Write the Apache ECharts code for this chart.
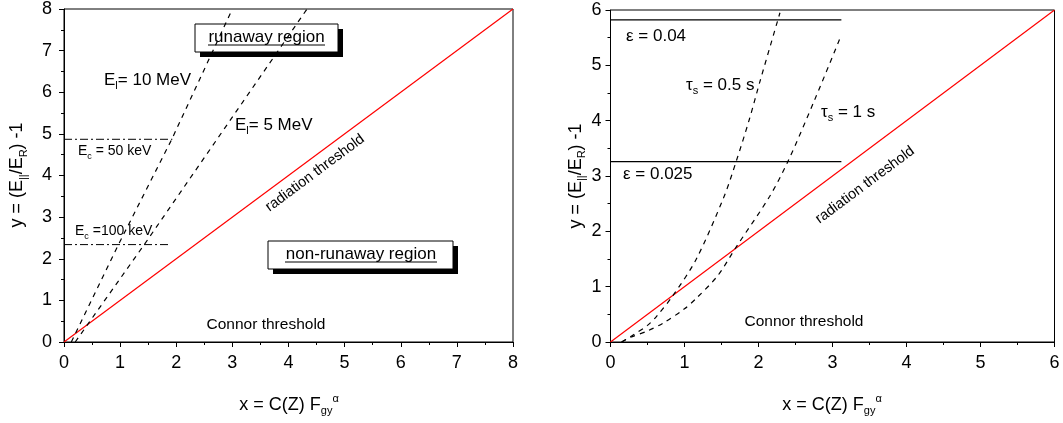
<!DOCTYPE html>
<html>
<head>
<meta charset="utf-8">
<script src="https://cdn.jsdelivr.net/npm/echarts@6/dist/echarts.min.js"></script>
<style>
html,body{margin:0;padding:0;background:#fff;}
#c{width:1063px;height:423px;}
</style>
</head>
<body>
<div id="c"></div>
<script>
// ---- Left panel data ----
var leftRadiation = [[0, 0], [8, 8]];
var leftEl10 = [[0.13, 0], [0.97, 2.34], [1.92, 4.87], [3.0, 8]];
var leftEl5 = [[0.2, 0], [1.43, 2.34], [4.33, 8]];
var leftEc50 = [[0, 4.87], [1.93, 4.87]];
var leftEc100 = [[0, 2.34], [1.89, 2.34]];
var leftTicks = [0, 1, 2, 3, 4, 5, 6, 7, 8];

// ---- Right panel data ----
var rightRadiation = [[0, 0], [6, 6]];
var rightEps004 = [[0, 5.82], [3.12, 5.82]];
var rightEps0025 = [[0, 3.26], [3.12, 3.26]];
var rightTau05 = [[0.15, 0], [0.3, 0.12], [0.5, 0.3], [0.62, 0.46], [0.85, 0.85], [1.16, 1.5], [1.535, 2.63], [1.70, 3.27], [1.88, 4.04], [2.02, 4.71], [2.29, 5.95]];
var rightTau1 = [[0.15, 0], [0.26, 0.08], [0.5, 0.2], [0.71, 0.34], [1.0, 0.6], [1.16, 0.79], [1.45, 1.2], [1.70, 1.72], [2.15, 2.63], [2.40, 3.27], [2.76, 4.38], [3.12, 5.55]];
var rightTicks = [0, 1, 2, 3, 4, 5, 6];

var FONT = 'Liberation Sans, Arial, Helvetica, sans-serif';

function axisCommon(gridIndex, min, max, margin) {
  return {
    type: 'value', gridIndex: gridIndex, min: min, max: max, interval: 1,
    axisLine: { show: true, onZero: false, lineStyle: { color: '#000', width: 1 } },
    axisTick: { show: true, inside: false, length: 5, lineStyle: { color: '#000' } },
    minorTick: { show: true, splitNumber: 2, length: 3, lineStyle: { color: '#000' } },
    splitLine: { show: false },
    axisLabel: { color: '#000', fontSize: 18, fontFamily: FONT, margin: margin }
  };
}

function line(xi, data, color, type, width, smooth) {
  return {
    type: 'line', xAxisIndex: xi, yAxisIndex: xi, data: data,
    symbol: 'none', silent: true, smooth: smooth || false,
    lineStyle: { color: color, type: type, width: width }
  };
}

var richBase = function (fs) {
  return {
    m: { fontSize: fs, fontFamily: FONT, color: '#000', lineHeight: 24 },
    s: { fontSize: Math.round(fs * 0.62), fontFamily: FONT, color: '#000', lineHeight: 24, padding: [12, 0, 0, 0] },
    p: { fontSize: Math.round(fs * 0.62), fontFamily: FONT, color: '#000', lineHeight: 24, padding: [0, 0, 12, 0] }
  };
};

function txt(x, y, text, fs, align, rot) {
  return {
    type: 'text', x: x, y: y, rotation: rot || 0, silent: true,
    style: { x: 0, y: 0, text: text, align: align || 'left', verticalAlign: 'middle', rich: richBase(fs), fill: '#000', font: fs + 'px ' + FONT }
  };
}

function box(x, y, w, h) {
  return [
    { type: 'rect', silent: true, shape: { x: x + 5, y: y + 5, width: w, height: h }, style: { fill: '#000' } },
    { type: 'rect', silent: true, shape: { x: x, y: y, width: w, height: h }, style: { fill: '#fff', stroke: '#000', lineWidth: 1 } }
  ];
}
function uline(x1, x2, y) {
  return { type: 'line', silent: true, shape: { x1: x1, y1: y, x2: x2, y2: y }, style: { stroke: '#000', lineWidth: 1 } };
}

var chart = echarts.init(document.getElementById('c'), null, { renderer: 'canvas' });

var graphics = [];
graphics = graphics.concat(box(195, 24, 143, 28));
graphics.push(txt(266.5, 37, '{m|runaway region}', 17, 'center'));
graphics.push(uline(208, 325, 45));
graphics = graphics.concat(box(268, 241, 185, 28));
graphics.push(txt(361, 254, '{m|non-runaway region}', 17, 'center'));
graphics.push(uline(285, 437, 262));

graphics.push(txt(104, 80, '{m|E}{s|l}{m|= 10 MeV}', 17, 'left'));
graphics.push(txt(235, 125, '{m|E}{s|l}{m|= 5 MeV}', 17, 'left'));
graphics.push(txt(78, 151, '{m|E}{s|c}{m| = 50 keV}', 14, 'left'));
graphics.push(txt(75, 231, '{m|E}{s|c}{m| =100 keV}', 14, 'left'));
graphics.push(txt(315, 173, '{m|radiation threshold}', 14.5, 'center', 0.64));
graphics.push(txt(266, 325, '{m|Connor threshold}', 15.5, 'center'));

graphics.push(txt(17.5, 175, '{m|y = (E}{s|||}{m|/E}{s|R}{m|) -1}', 18, 'center', Math.PI / 2));
graphics.push(txt(289, 405, '{m|x = C(Z) F}{s|gy}{p|α}', 18, 'center'));

graphics.push(txt(626, 36, '{m|ε = 0.04}', 17, 'left'));
graphics.push(txt(623, 174, '{m|ε = 0.025}', 17, 'left'));
graphics.push(txt(686, 85, '{m|τ}{s|s}{m| = 0.5 s}', 17, 'left'));
graphics.push(txt(821, 112, '{m|τ}{s|s}{m| = 1 s}', 17, 'left'));
graphics.push(txt(865, 185, '{m|radiation threshold}', 14.5, 'center', 0.64));
graphics.push(txt(804, 322, '{m|Connor threshold}', 15.5, 'center'));

graphics.push(txt(576, 176, '{m|y = (E}{s|||}{m|/E}{s|R}{m|) -1}', 18, 'center', Math.PI / 2));
graphics.push(txt(832, 405, '{m|x = C(Z) F}{s|gy}{p|α}', 18, 'center'));

var option = {
  animation: false,
  backgroundColor: '#fff',
  grid: [
    { left: 64, right: 550, top: 7, bottom: 81, show: true, borderColor: '#000', borderWidth: 1, backgroundColor: 'transparent' },
    { left: 610.5, right: 8.5, top: 10, bottom: 81, show: true, borderColor: '#000', borderWidth: 1, backgroundColor: 'transparent' }
  ],
  xAxis: [axisCommon(0, leftTicks[0], leftTicks[leftTicks.length - 1], 12), axisCommon(1, rightTicks[0], rightTicks[rightTicks.length - 1], 12)],
  yAxis: [axisCommon(0, leftTicks[0], leftTicks[leftTicks.length - 1], 12), axisCommon(1, rightTicks[0], rightTicks[rightTicks.length - 1], 9)],
  series: [
    line(0, leftRadiation, '#ff0000', 'solid', 1.2),
    line(0, leftEl10, '#000', [5, 5], 1.2),
    line(0, leftEl5, '#000', [5, 5], 1.2),
    line(0, leftEc50, '#000', [8, 3, 2, 3], 1),
    line(0, leftEc100, '#000', [8, 3, 2, 3], 1),
    line(1, rightRadiation, '#ff0000', 'solid', 1.2),
    line(1, rightEps004, '#000', 'solid', 1.3),
    line(1, rightEps0025, '#000', 'solid', 1.3),
    line(1, rightTau05, '#000', [5, 5], 1.2, 0.3),
    line(1, rightTau1, '#000', [5, 5], 1.2, 0.3)
  ],
  graphic: graphics
};
chart.setOption(option);
</script>
</body>
</html>
